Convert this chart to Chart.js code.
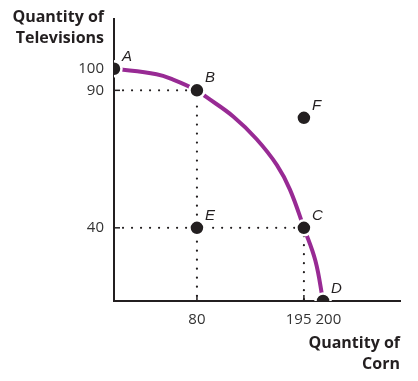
<!DOCTYPE html>
<html>
<head>
<meta charset="utf-8">
<script src="https://cdn.jsdelivr.net/npm/chart.js@4.4.1/dist/chart.umd.min.js"></script>
<style>
  html, body { margin: 0; padding: 0; background: #ffffff; }
  canvas { display: block; }
</style>
</head>
<body>
<canvas id="c" width="418" height="381"></canvas>
<script>
// ---- data ----
const pointNames = ['A', 'B', 'C', 'D', 'E', 'F'];
const cornValues = [0, 80, 195, 200, 80, 195];
const tvValues = [100, 90, 40, 0, 40, 80];
// production possibilities frontier (passes through A, B, C, D)
const frontierCorn = [0, 41, 57, 80, 90, 119, 144, 166, 180, 195, 198, 200];
const frontierTv = [100, 97.5, 95, 90, 87.6, 80.5, 72.3, 62.8, 53.9, 40, 22, 0];
const xTicks = [80, 195, 200];
const yTicks = [40, 90, 100];
const xTitle = ['Quantity of', 'Corn'];
const yTitle = ['Quantity of', 'Televisions'];

// ---- a stylised (piecewise linear) value axis, as in the textbook diagram ----
class WarpScale extends Chart.LinearScale {
  _warp(v) {
    const k = this.options.warp;
    if (v <= k[0][0]) return k[0][1];
    for (let i = 1; i < k.length; i++) {
      if (v <= k[i][0]) {
        const t = (v - k[i - 1][0]) / (k[i][0] - k[i - 1][0]);
        return k[i - 1][1] + t * (k[i][1] - k[i - 1][1]);
      }
    }
    return k[k.length - 1][1];
  }
  _unwarp(f) {
    const k = this.options.warp;
    for (let i = 1; i < k.length; i++) {
      if (f <= k[i][1]) {
        const t = (f - k[i - 1][1]) / (k[i][1] - k[i - 1][1]);
        return k[i - 1][0] + t * (k[i][0] - k[i - 1][0]);
      }
    }
    return k[k.length - 1][0];
  }
  getPixelForValue(value) {
    return this.getPixelForDecimal(this._warp(value));
  }
  getValueForPixel(pixel) {
    return this._unwarp(this.getDecimalForPixel(pixel));
  }
}
WarpScale.id = 'warp';
WarpScale.defaults = Chart.LinearScale.defaults;
Chart.register(WarpScale);

const points = cornValues.map((x, i) => ({ x: x, y: tvValues[i] }));
const frontier = frontierCorn.map((x, i) => ({ x: x, y: frontierTv[i] }));
const guideB = [{ x: 0, y: tvValues[1] }, { x: cornValues[1], y: tvValues[1] }, { x: cornValues[1], y: 0 }];
const guideC = [{ x: 0, y: tvValues[2] }, { x: cornValues[2], y: tvValues[2] }, { x: cornValues[2], y: 0 }];

const INK = '#231f20';
const TICK_FONT = '15px "Open Sans", sans-serif';

const decor = {
  id: 'decor',
  afterDraw(chart) {
    const ctx = chart.ctx;
    const xs = chart.scales.x, ys = chart.scales.y;
    const area = chart.chartArea;
    ctx.save();
    // small inner tick marks
    ctx.strokeStyle = INK;
    ctx.lineWidth = 1.5;
    xTicks.forEach(v => {
      const px = xs.getPixelForValue(v);
      ctx.beginPath(); ctx.moveTo(px, area.bottom); ctx.lineTo(px, area.bottom - 6); ctx.stroke();
    });
    yTicks.forEach(v => {
      const py = ys.getPixelForValue(v);
      ctx.beginPath(); ctx.moveTo(area.left, py); ctx.lineTo(area.left + 6, py); ctx.stroke();
    });
    // x tick labels, spread apart when they would collide
    ctx.font = TICK_FONT;
    ctx.fillStyle = '#333';
    ctx.textAlign = 'center';
    ctx.textBaseline = 'middle';
    const items = xTicks.map(v => {
      const s = String(v);
      return { s: s, c: xs.getPixelForValue(v), w: ctx.measureText(s).width };
    });
    for (let pass = 0; pass < 5; pass++) {
      for (let i = 0; i < items.length - 1; i++) {
        const a = items[i], b = items[i + 1];
        const ov = (a.c + a.w / 2 + 4) - (b.c - b.w / 2);
        if (ov > 0) { a.c -= ov / 2; b.c += ov / 2; }
      }
    }
    items.forEach(it => ctx.fillText(it.s, it.c, area.bottom + 19));
    // axis titles
    ctx.font = 'bold 16px "Open Sans", sans-serif';
    ctx.fillStyle = INK;
    ctx.textAlign = 'right';
    ctx.textBaseline = 'alphabetic';
    ctx.fillText(yTitle[0], area.left - 10, 22);
    ctx.fillText(yTitle[1], area.left - 10, 43);
    ctx.fillText(xTitle[0], area.right, 348);
    ctx.fillText(xTitle[1], area.right, 369);
    // point letters
    const meta = chart.getDatasetMeta(0);
    ctx.font = 'italic 15px "Liberation Sans", sans-serif';
    ctx.textAlign = 'left';
    meta.data.forEach((el, i) => {
      ctx.fillText(pointNames[i], el.x + 8, el.y - 8);
    });
    ctx.restore();
  }
};

new Chart(document.getElementById('c'), {
  type: 'scatter',
  data: {
    datasets: [
      {
        label: 'Points',
        data: points,
        order: 0,
        pointRadius: 7.5,
        pointHoverRadius: 7.5,
        pointBackgroundColor: INK,
        pointBorderColor: '#ffffff',
        pointBorderWidth: 2.5,
        showLine: false
      },
      {
        label: 'Frontier',
        type: 'line',
        data: frontier,
        order: 1,
        borderColor: '#982a94',
        borderWidth: 4,
        pointRadius: 0,
        fill: false,
        tension: 0.4
      },
      {
        label: 'Guide B',
        type: 'line',
        data: guideB,
        order: 2,
        borderColor: INK,
        borderWidth: 2.2,
        borderDash: [0.01, 9],
        borderCapStyle: 'round',
        pointRadius: 0,
        fill: false,
        tension: 0
      },
      {
        label: 'Guide C',
        type: 'line',
        data: guideC,
        order: 2,
        borderColor: INK,
        borderWidth: 2.2,
        borderDash: [0.01, 9],
        borderCapStyle: 'round',
        pointRadius: 0,
        fill: false,
        tension: 0
      }
    ]
  },
  options: {
    responsive: false,
    animation: false,
    events: [],
    layout: { padding: { top: 12, right: 18, left: 0, bottom: 0 } },
    plugins: { legend: { display: false }, tooltip: { enabled: false }, title: { display: false } },
    scales: {
      x: {
        type: 'warp',
        min: 0,
        max: 260,
        warp: [[0, 0], [80, 0.290], [195, 0.664], [200, 0.731], [260, 1]],
        afterBuildTicks: s => { s.ticks = xTicks.map(v => ({ value: v })); },
        afterFit: s => { s.height = 80; },
        grid: { display: false, drawTicks: false },
        border: { display: true, color: INK, width: 2 },
        ticks: { display: false, autoSkip: false }
      },
      y: {
        type: 'warp',
        min: 0,
        max: 120,
        warp: [[0, 0], [40, 0.2595], [90, 0.747], [100, 0.8235], [120, 1]],
        afterBuildTicks: s => { s.ticks = yTicks.map(v => ({ value: v })); },
        afterFit: s => { s.width = 114; },
        grid: { display: false, drawTicks: false, tickLength: 0 },
        border: { display: true, color: INK, width: 2 },
        ticks: { autoSkip: false, padding: 10, color: '#333', font: { family: '"Open Sans", sans-serif', size: 15 } }
      }
    }
  },
  plugins: [decor]
});
</script>
</body>
</html>
